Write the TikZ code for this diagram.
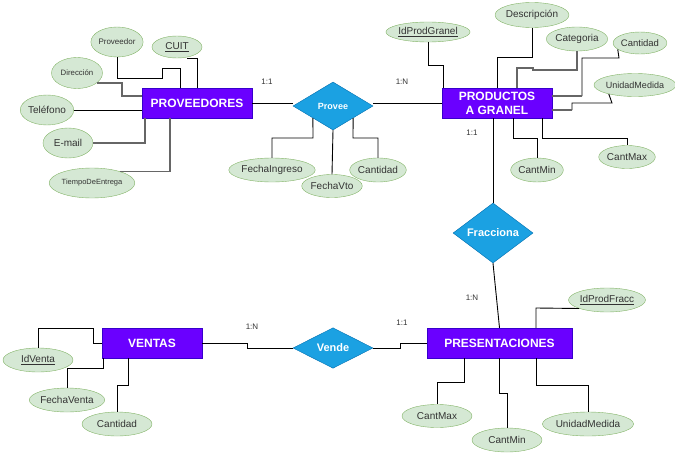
\documentclass[tikz,border=0pt]{standalone}
\usepackage{fontspec}
\setmainfont{Liberation Sans}
\usetikzlibrary{shapes.geometric}
\definecolor{entfill}{HTML}{6A00FF}
\definecolor{entdraw}{HTML}{3700CC}
\definecolor{relfill}{HTML}{1BA1E2}
\definecolor{reldraw}{HTML}{006EAF}
\definecolor{attfill}{HTML}{D5E8D4}
\definecolor{attdraw}{HTML}{82B366}
\definecolor{txt}{HTML}{333333}
\definecolor{lgray}{HTML}{666666}
\tikzset{
  ent/.style={draw=entdraw, fill=entfill, text=white, font=\fontsize{12}{14}\selectfont\bfseries, minimum height=30pt, inner sep=0pt, align=center},
  rel/.style={diamond, draw=reldraw, fill=relfill, text=white, inner sep=0pt},
  att/.style={ellipse, draw=attdraw, fill=attfill, text=txt, inner sep=0pt, font=\fontsize{10}{12}\selectfont},
  card/.style={text=txt, font=\fontsize{8}{10}\selectfont, inner sep=0pt},
  cn/.style={draw=black, line width=0.9pt},
  cg/.style={draw=lgray, line width=1.5pt}
}
\begin{document}
\begin{tikzpicture}[x=1pt,y=-1pt]
\useasboundingbox (0,0) rectangle (675,455);
% entities
\node[ent, minimum width=110pt] (prov) at (197,103) {PROVEEDORES};
\node[ent, minimum width=110pt] (gran) at (497,103) {PRODUCTOS\\A GRANEL};
\node[ent, minimum width=145pt] (pres) at (499.5,343) {PRESENTACIONES};
\node[ent, minimum width=100pt] (ventas) at (152,343) {VENTAS};
% relationships
\node[rel, minimum width=80pt, minimum height=48pt, font=\fontsize{9}{11}\selectfont\bfseries] (provee) at (333,106) {Provee};
\node[rel, minimum width=80pt, minimum height=50pt, font=\fontsize{11}{13}\selectfont\bfseries] (frac) at (493,233) {Fracciona};
\node[rel, minimum width=80pt, minimum height=40pt, font=\fontsize{11}{13}\selectfont\bfseries] (vende) at (333,348) {Vende};
% proveedores attributes
\node[att, minimum width=51pt, minimum height=30pt, font=\fontsize{8}{10}\selectfont] (aProv) at (117,42) {Proveedor};
\node[att, minimum width=50pt, minimum height=22pt] (aCuit) at (177,47) {\underline{CUIT}};
\node[att, minimum width=51pt, minimum height=31pt, font=\fontsize{7.8}{10}\selectfont] (aDir) at (77,73) {Dirección};
\node[att, minimum width=50pt, minimum height=30pt] (aTel) at (47,110) {Teléfono};
\node[att, minimum width=50pt, minimum height=30pt] (aMail) at (68,143) {E-mail};
\node[att, minimum width=81pt, minimum height=30pt, font=\fontsize{7.5}{9}\selectfont] (aTiempo) at (92,183) {TiempoDeEntrega};
% provee attributes
\node[att, minimum width=70pt, minimum height=24pt] (aFI) at (272,170) {FechaIngreso};
\node[att, minimum width=51pt, minimum height=23pt] (aFV) at (332,186) {FechaVto};
\node[att, minimum width=50pt, minimum height=24pt] (aCP) at (378,170) {Cantidad};
% granel attributes
\node[att, minimum width=71pt, minimum height=20pt] (aIdG) at (428,32) {\underline{IdProdGranel}};
\node[att, minimum width=61pt, minimum height=25pt] (aDesc) at (532,15) {Descripción};
\node[att, minimum width=51pt, minimum height=24pt] (aCat) at (577,39) {Categoria};
\node[att, minimum width=50pt, minimum height=22pt, font=\fontsize{9.5}{11}\selectfont] (aCantG) at (640,43) {Cantidad};
\node[att, minimum width=65pt, minimum height=23pt, font=\fontsize{9}{11}\selectfont] (aUM) at (635,85) {UnidadMedida};
\node[att, minimum width=50pt, minimum height=23pt] (aCMaxG) at (627,157) {CantMax};
\node[att, minimum width=51pt, minimum height=24pt] (aCMinG) at (537,170) {CantMin};
% presentaciones attributes
\node[att, minimum width=70pt, minimum height=24pt] (aIdF) at (607,300) {\underline{IdProdFracc}};
\node[att, minimum width=70pt, minimum height=23pt] (aCMaxP) at (437,416) {CantMax};
\node[att, minimum width=70pt, minimum height=24pt] (aCMinP) at (507,440) {CantMin};
\node[att, minimum width=70pt, minimum height=24pt] (aUMP) at (588,424) {UnidadMedida};
% ventas attributes
\node[att, minimum width=70pt, minimum height=24pt] (aIdV) at (38,360) {\underline{IdVenta}};
\node[att, minimum width=70pt, minimum height=24pt] (aFVen) at (67,400) {FechaVenta};
\node[att, minimum width=70pt, minimum height=24pt] (aCantV) at (117,424) {Cantidad};
% cardinalities
\node[card] (c1) at (267,82) {1:1};
\node[card] (c2) at (402,82) {1:N};
\node[card] (c3) at (472,133) {1:1};
\node[card] (c4) at (472,298) {1:N};
\node[card] (c5) at (252,327) {1:N};
\node[card] (c6) at (402,323) {1:1};
% proveedores connectors
\draw[cn] (aProv.south) -- (117,78) -- (162,78) -- (162,68) -- (180,68) -- (180,0 |- prov.north);
\draw[cn] ([xshift=10pt]aCuit.south) -| (prov.north);
\draw[cg] (aDir.-27) -| (122,96) -- (prov.west |- 0,96);
\draw[cn] (aTel.east) -- (prov.west |- aTel.east);
\draw[cg] (aMail.east) -| ([xshift=3pt]prov.south west);
\draw[cg] (aTiempo.22) -| (170,0 |- prov.south);
% provee connectors
\draw[cn] (prov.east) -- (provee.west |- prov.east);
\draw[cn] (provee.east |- gran.west) -- (gran.west);
\draw[cn] (aFI.north) |- (313,138) -- (provee.south west);
\draw[cn] (aCP.north) |- (353,138) -- (provee.south east);
\draw[cn] (provee.south) -- (aFV.north);
% granel connectors
\draw[cn] (aIdG.south) |- (443,65) -- (443,0 |- gran.north);
\draw[cn] (aDesc.south) -- (532,57) -- (497,57) -- (gran.north);
\draw[cg] (aCat.south) -- (577,70) -- (533,70) -- (533,68) -- (517,68) -- (517,0 |- gran.north);
\draw[cn] (aCantG.196) -- (619,58) -- (582,58) -- (582,96);
\draw[cg] (582,96) -- (gran.east |- 0,96);
\draw[cn] (aUM.199) -- (612,103) -- (572,103) -- (572,110);
\draw[cg] (572,110) -- (gran.east |- 0,110);
\draw[cn] (513,0 |- gran.south) -- (513,138) -- (537,138) -- (aCMinG.north);
\draw[cn] (542,0 |- gran.south) -- (542,138) -- (627,138) -- (aCMaxG.north);
\draw[cn] (frac.north |- gran.south) -- (frac.north);
\draw[cn] (frac.south) -- (pres.north);
% presentaciones connectors
\draw[cn] (aIdF.197) -- (536,308) -- (536,0 |- pres.north);
\draw[cn] (464,0 |- pres.south) -- (464,382) -- (437,382) -- (aCMaxP.north);
\draw[cn] (499,0 |- pres.south) -- (499,393) -- (507,393) -- (aCMinP.north);
\draw[cn] (536,0 |- pres.south) -- (536,385) -- (588,385) -- (aUMP.north);
% vende connectors
\draw[cn] (vende.east) -- (400,348) -- (400,343) -- (pres.west);
\draw[cn] (ventas.east) -- (247,343) -- (247,348) -- (vende.west);
% ventas connectors
\draw[cn] (aIdV.north) |- (93,328) -- (93,343) -- (ventas.west);
\draw[cn] (aFVen.north) -- (67,368) -- (103,368) -- (103,0 |- ventas.south);
\draw[cn] (aCantV.north) -- (117,385) -- (128,385) -- (128,0 |- ventas.south);
\end{tikzpicture}
\end{document}
